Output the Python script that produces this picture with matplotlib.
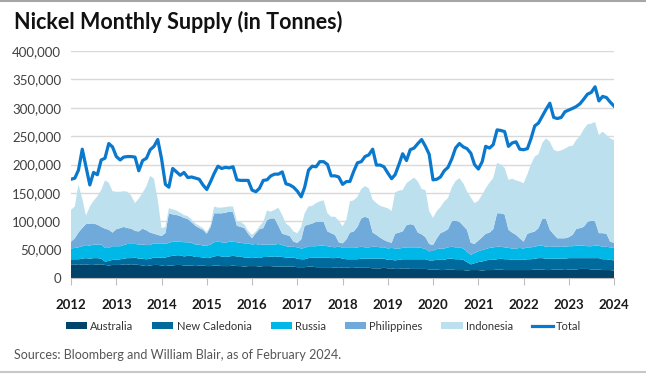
import numpy as np
import pandas as pd
import matplotlib
matplotlib.use('Agg')
import matplotlib.pyplot as plt
from matplotlib.patches import Patch
from matplotlib.lines import Line2D
from matplotlib.ticker import FuncFormatter
import matplotlib.dates as mdates

plt.rcParams['font.family'] = ['Lato', 'DejaVu Sans']

# monthly, Jan 2012 .. Jan 2024 (thousand tonnes)
months = pd.date_range('2012-01-01', periods=145, freq='MS')

australia = [24,24,23,24,24,23,23,24,24,23,22,23,
             23,23,24,24,23,24,23,22,21,22,23,23,
             22,21,22,22,23,23,22,22,22,21,22,22,
             21,21,22,22,21,21,21,22,21,21,20,21,
             21,21,20,21,21,21,20,20,20,20,20,20,
             19,19,19,20,20,19,19,19,19,19,18,19,
             18,18,19,19,18,18,18,18,17,17,17,18,
             17,17,16,16,17,17,16,16,16,16,16,15,
             15,15,14,14,15,15,14,14,14,13,14,14,
             14,13,14,14,14,15,15,14,14,14,14,14,
             14,14,14,15,15,15,14,14,15,15,15,14,
             15,15,15,16,16,16,15,15,15,14,14,14,
             13]

new_caledonia = [9,9,10,10,11,11,12,11,10,6,8,9,
                 9,10,10,11,12,12,11,12,12,12,13,13,
                 14,15,16,17,17,17,16,17,17,16,15,14,
                 14,15,16,17,17,16,17,17,17,17,16,15,
                 14,15,15,16,16,17,17,18,17,16,16,16,
                 15,14,14,15,16,17,17,17,17,16,17,17,
                 16,15,14,14,15,16,16,16,17,17,17,16,
                 15,15,15,16,16,16,17,17,17,17,17,16,
                 16,17,18,18,19,19,19,19,18,15,10,12,
                 14,16,17,18,18,18,19,19,19,18,18,18,
                 18,19,19,19,20,20,20,20,19,19,19,20,
                 20,20,20,19,19,19,20,20,20,19,19,18,
                 18]

russia = [19,20,21,22,23,23,24,24,25,24,23,24,
          24,23,24,25,25,24,25,25,25,24,25,25,
          25,24,24,25,24,24,25,24,23,22,22,21,
          22,23,25,25,25,25,26,25,25,24,25,25,
          24,24,23,22,22,21,22,22,21,20,19,19,
          20,19,20,21,20,20,21,21,20,20,19,20,
          19,20,20,20,21,21,20,20,21,21,20,20,
          20,21,21,20,20,21,21,21,21,20,18,16,
          17,19,20,20,20,21,21,21,20,18,17,18,
          19,20,20,21,22,22,21,21,20,20,20,21,
          20,21,21,21,22,22,21,22,21,21,22,21,
          21,21,22,22,22,21,21,22,22,22,22,22,
          22]

philippines = [12,17,26,32,37,39,37,35,31,34,32,24,
               30,32,32,28,27,23,23,28,26,22,17,15,
               13,19,52,48,47,45,43,41,36,33,29,28,
               21,31,51,50,51,53,53,52,29,28,27,17,
               11,19,28,29,43,46,46,32,20,20,19,9,
               8,16,39,38,40,43,42,42,26,24,22,7,
               8,15,27,29,36,50,54,51,25,21,17,13,
               12,9,26,28,29,39,41,39,26,24,21,13,
               10,19,27,30,32,45,47,45,40,39,21,16,
               19,23,27,27,32,59,59,58,32,28,24,17,
               12,24,26,27,31,47,49,29,22,15,14,15,
               16,20,29,31,33,43,45,43,22,24,23,10,
               9]

indonesia = [56,56,85,52,15,30,40,50,65,85,83,73,
             66,64,63,64,58,49,58,63,78,100,97,62,
             14,11,9,9,8,6,5,5,5,4,4,3,
             3,4,12,10,10,10,9,10,8,9,6,5,
             6,3,5,11,17,12,15,32,33,20,17,18,
             17,22,22,32,31,33,36,38,32,29,32,38,
             30,35,55,55,53,52,54,53,58,56,56,58,
             59,56,73,74,73,74,77,84,90,80,83,58,
             48,48,46,53,55,60,70,77,75,68,80,72,
             70,75,80,88,90,89,86,82,88,95,96,100,
             103,105,120,132,130,134,142,155,149,153,155,158,
             160,157,157,162,172,172,171,175,173,179,174,182,
             181]

total = [174,176,190,227,196,164,186,182,208,211,237,231,
         214,208,213,214,214,213,189,207,211,226,232,244,
         210,165,160,193,187,181,186,177,178,176,174,164,
         156,170,184,197,193,195,194,196,173,172,172,172,
         155,152,158,172,173,180,183,183,187,166,164,160,
         153,143,160,190,197,196,205,205,200,180,180,178,
         165,170,170,188,203,205,214,217,227,199,199,196,
         185,175,182,200,219,207,226,229,237,244,232,218,
         173,174,178,189,195,210,229,237,231,228,220,200,
         192,205,232,229,235,261,260,258,232,238,240,227,
         226,228,245,268,273,285,297,308,283,281,283,293,
         296,299,302,307,315,324,327,337,312,320,318,310,
         303]

names = ['Australia', 'New Caledonia', 'Russia', 'Philippines', 'Indonesia']
colors = ['#00446b', '#006a9c', '#00b8e8', '#70aadb', '#bde0ef']
line_color = '#0a78cc'

series = [australia, new_caledonia, russia, philippines, indonesia]
series = [np.array(s) * 1000 for s in series]

fig = plt.figure(figsize=(6.46, 3.74), dpi=100)
ax = fig.add_axes([0.1099, 0.2567, 0.8406, 0.6069])

ax.stackplot(months, *series, colors=colors, linewidth=0, zorder=2)
ax.plot(months, np.array(total) * 1000, color=line_color, lw=2.3, zorder=3,
        solid_joinstyle='round')

ax.set_ylim(0, 400000)
ax.set_xlim(months[0], months[-1])
ax.set_yticks(range(0, 400001, 50000))
ax.yaxis.set_major_formatter(FuncFormatter(lambda v, p: f'{int(v):,}'))
ax.grid(axis='y', color='#d9d9d9', lw=1, zorder=0)
ax.set_axisbelow(True)

years = pd.date_range('2012-01-01', '2024-01-01', freq='YS')
ax.set_xticks(years)
ax.xaxis.set_major_formatter(mdates.DateFormatter('%Y'))

for s in ['top', 'right', 'left']:
    ax.spines[s].set_visible(False)
ax.spines['bottom'].set_color('#bfbfbf')
ax.tick_params(axis='y', length=0, labelsize=9.5, labelcolor='#404040', pad=7)
ax.tick_params(axis='x', length=5, color='#bfbfbf', labelsize=9.5, pad=10)
for t in ax.get_xticklabels():
    t.set_fontweight('bold')
    t.set_color('#1a1a1a')

fig.text(0.022, 0.94, 'Nickel Monthly Supply (in Tonnes)', fontsize=15.5,
         fontweight='bold', color='#111111', va='center')
fig.text(0.022, 0.05, 'Sources: Bloomberg and William Blair, as of February 2024.',
         fontsize=9, color='#555555', va='center')

handles = [Patch(facecolor=c, label=n) for c, n in zip(colors, names)]
handles.append(Line2D([], [], color=line_color, lw=2.3, label='Total'))
fig.legend(handles=handles, loc='center', bbox_to_anchor=(0.501, 0.128), ncol=6,
           frameon=False, fontsize=8, handlelength=1.9, handleheight=0.55,
           columnspacing=1.7, handletextpad=0.3, labelcolor='#333333')

fig.add_artist(Line2D([0, 1], [0.997, 0.997], transform=fig.transFigure,
                      color='#a6a6a6', lw=1.5))
fig.add_artist(Line2D([0, 1], [0.006, 0.006], transform=fig.transFigure,
                      color='#c8c8c8', lw=1.5))

fig.savefig('out.png', dpi=100)
